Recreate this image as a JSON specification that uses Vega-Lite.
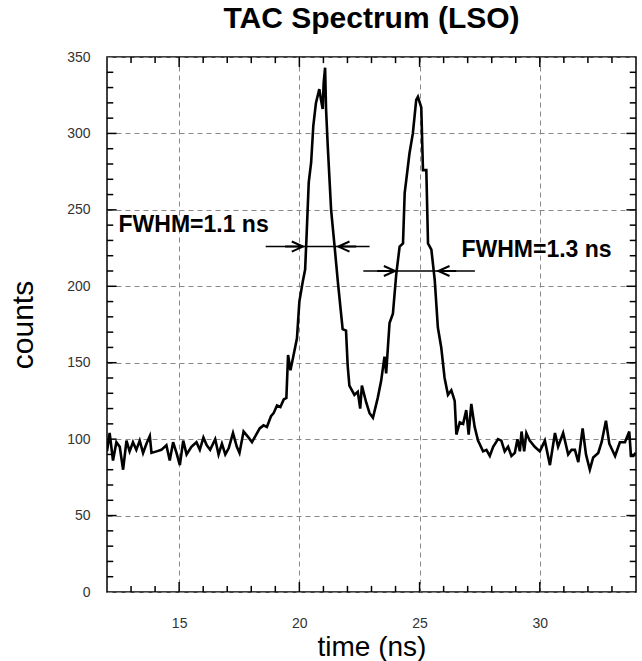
{
  "$schema": "https://vega.github.io/schema/vega-lite/v6.json",
  "width": 529,
  "height": 535,
  "autosize": {"type": "none"},
  "padding": {"left": 107, "top": 57, "right": 6, "bottom": 69},
  "background": "white",
  "config": {
    "font": "Liberation Sans",
    "view": {"stroke": "black", "strokeWidth": 1.5},
    "axis": {"labelFont": "Liberation Sans", "titleFont": "Liberation Sans"}
  },
  "title": {
    "text": "TAC Spectrum (LSO)",
    "fontSize": 30,
    "fontWeight": "bold",
    "font": "Liberation Sans",
    "color": "black",
    "anchor": "middle",
    "frame": "group",
    "offset": 16
  },
  "datasets": {
    "spectrum": [
      {"t": 12.00, "c": 92}, {"t": 12.11, "c": 104}, {"t": 12.25, "c": 86}, {"t": 12.39, "c": 98},
      {"t": 12.53, "c": 95}, {"t": 12.67, "c": 80}, {"t": 12.81, "c": 99}, {"t": 12.94, "c": 92},
      {"t": 13.08, "c": 98}, {"t": 13.22, "c": 93}, {"t": 13.36, "c": 99}, {"t": 13.50, "c": 91},
      {"t": 13.64, "c": 97}, {"t": 13.78, "c": 102}, {"t": 13.85, "c": 91}, {"t": 14.06, "c": 92},
      {"t": 14.26, "c": 93}, {"t": 14.47, "c": 96}, {"t": 14.61, "c": 86}, {"t": 14.75, "c": 98},
      {"t": 14.89, "c": 91}, {"t": 15.03, "c": 83}, {"t": 15.17, "c": 99}, {"t": 15.31, "c": 90},
      {"t": 15.51, "c": 95}, {"t": 15.72, "c": 98}, {"t": 15.86, "c": 93}, {"t": 16.01, "c": 101},
      {"t": 16.15, "c": 96}, {"t": 16.29, "c": 93}, {"t": 16.50, "c": 100}, {"t": 16.64, "c": 90},
      {"t": 16.78, "c": 97}, {"t": 16.92, "c": 90}, {"t": 17.06, "c": 94}, {"t": 17.24, "c": 104},
      {"t": 17.40, "c": 95}, {"t": 17.51, "c": 91}, {"t": 17.68, "c": 105}, {"t": 17.89, "c": 101},
      {"t": 18.03, "c": 98}, {"t": 18.17, "c": 102}, {"t": 18.35, "c": 107}, {"t": 18.51, "c": 109},
      {"t": 18.65, "c": 108}, {"t": 18.82, "c": 115}, {"t": 18.93, "c": 117}, {"t": 19.07, "c": 122},
      {"t": 19.21, "c": 121}, {"t": 19.35, "c": 126}, {"t": 19.46, "c": 127}, {"t": 19.53, "c": 155},
      {"t": 19.63, "c": 145}, {"t": 19.76, "c": 155}, {"t": 19.90, "c": 166}, {"t": 20.00, "c": 190},
      {"t": 20.14, "c": 203}, {"t": 20.24, "c": 211}, {"t": 20.30, "c": 233}, {"t": 20.39, "c": 268},
      {"t": 20.49, "c": 281}, {"t": 20.58, "c": 305}, {"t": 20.69, "c": 320}, {"t": 20.83, "c": 329},
      {"t": 20.90, "c": 322}, {"t": 20.97, "c": 316}, {"t": 21.01, "c": 333}, {"t": 21.07, "c": 343},
      {"t": 21.11, "c": 316}, {"t": 21.18, "c": 292}, {"t": 21.32, "c": 250}, {"t": 21.46, "c": 227},
      {"t": 21.60, "c": 203}, {"t": 21.80, "c": 172}, {"t": 21.94, "c": 171}, {"t": 22.01, "c": 148},
      {"t": 22.08, "c": 135}, {"t": 22.29, "c": 129}, {"t": 22.43, "c": 131}, {"t": 22.53, "c": 120},
      {"t": 22.60, "c": 135}, {"t": 22.78, "c": 124}, {"t": 22.92, "c": 117}, {"t": 23.06, "c": 114},
      {"t": 23.26, "c": 127}, {"t": 23.40, "c": 138}, {"t": 23.54, "c": 154}, {"t": 23.61, "c": 143},
      {"t": 23.75, "c": 176}, {"t": 23.89, "c": 182}, {"t": 24.03, "c": 208}, {"t": 24.17, "c": 226},
      {"t": 24.31, "c": 228}, {"t": 24.38, "c": 261}, {"t": 24.58, "c": 287}, {"t": 24.72, "c": 300},
      {"t": 24.86, "c": 322}, {"t": 24.93, "c": 324}, {"t": 25.07, "c": 317}, {"t": 25.14, "c": 276},
      {"t": 25.28, "c": 276}, {"t": 25.35, "c": 228}, {"t": 25.49, "c": 224}, {"t": 25.63, "c": 204},
      {"t": 25.76, "c": 173}, {"t": 25.90, "c": 160}, {"t": 26.04, "c": 140}, {"t": 26.18, "c": 129},
      {"t": 26.32, "c": 132}, {"t": 26.46, "c": 125}, {"t": 26.53, "c": 103}, {"t": 26.67, "c": 111},
      {"t": 26.81, "c": 110}, {"t": 26.94, "c": 119}, {"t": 27.04, "c": 103}, {"t": 27.15, "c": 123},
      {"t": 27.29, "c": 108}, {"t": 27.43, "c": 99}, {"t": 27.64, "c": 92}, {"t": 27.78, "c": 93},
      {"t": 27.92, "c": 89}, {"t": 28.06, "c": 95}, {"t": 28.26, "c": 100}, {"t": 28.40, "c": 99},
      {"t": 28.54, "c": 92}, {"t": 28.68, "c": 95}, {"t": 28.82, "c": 89}, {"t": 28.96, "c": 91},
      {"t": 29.07, "c": 100}, {"t": 29.17, "c": 92}, {"t": 29.24, "c": 105}, {"t": 29.35, "c": 92},
      {"t": 29.44, "c": 104}, {"t": 29.58, "c": 99}, {"t": 29.79, "c": 95}, {"t": 30.00, "c": 92},
      {"t": 30.21, "c": 99}, {"t": 30.42, "c": 83}, {"t": 30.63, "c": 104}, {"t": 30.76, "c": 95},
      {"t": 30.97, "c": 104}, {"t": 31.18, "c": 90}, {"t": 31.32, "c": 93}, {"t": 31.46, "c": 93},
      {"t": 31.60, "c": 85}, {"t": 31.78, "c": 107}, {"t": 31.92, "c": 90}, {"t": 32.08, "c": 80},
      {"t": 32.22, "c": 88}, {"t": 32.43, "c": 91}, {"t": 32.57, "c": 98}, {"t": 32.75, "c": 112},
      {"t": 32.89, "c": 97}, {"t": 33.13, "c": 89}, {"t": 33.33, "c": 98}, {"t": 33.54, "c": 98},
      {"t": 33.72, "c": 105}, {"t": 33.79, "c": 89}, {"t": 33.89, "c": 89}, {"t": 33.99, "c": 91}
    ],
    "fwhm": [
      {"x1": 18.6, "x2": 22.92, "y": 226},
      {"x1": 22.66, "x2": 27.3, "y": 210}
    ],
    "heads": [
      {"x": 20.15, "y": 226, "dir": "right"},
      {"x": 21.62, "y": 226, "dir": "left"},
      {"x": 23.98, "y": 210, "dir": "right"},
      {"x": 25.78, "y": 210, "dir": "left"}
    ],
    "labels": [
      {"x": 12.48, "y": 240, "text": "FWHM=1.1 ns"},
      {"x": 26.74, "y": 224, "text": "FWHM=1.3 ns"}
    ],
    "xminor": [
      {"v": 13}, {"v": 14}, {"v": 16}, {"v": 17}, {"v": 18}, {"v": 19}, {"v": 21}, {"v": 22},
      {"v": 23}, {"v": 24}, {"v": 26}, {"v": 27}, {"v": 28}, {"v": 29}, {"v": 31}, {"v": 32}, {"v": 33}
    ],
    "xmajor": [{"v": 15}, {"v": 20}, {"v": 25}, {"v": 30}],
    "yminor": [
      {"v": 10}, {"v": 20}, {"v": 30}, {"v": 40}, {"v": 60}, {"v": 70}, {"v": 80}, {"v": 90},
      {"v": 110}, {"v": 120}, {"v": 130}, {"v": 140}, {"v": 160}, {"v": 170}, {"v": 180}, {"v": 190},
      {"v": 210}, {"v": 220}, {"v": 230}, {"v": 240}, {"v": 260}, {"v": 270}, {"v": 280}, {"v": 290},
      {"v": 310}, {"v": 320}, {"v": 330}, {"v": 340}
    ],
    "ymajor": [{"v": 50}, {"v": 100}, {"v": 150}, {"v": 200}, {"v": 250}, {"v": 300}]
  },
  "layer": [
    {
      "data": {"name": "spectrum"},
      "mark": {"type": "line", "color": "black", "strokeWidth": 2.6, "strokeJoin": "miter", "clip": true},
      "encoding": {
        "x": {
          "field": "t", "type": "quantitative",
          "scale": {"domain": [12, 34], "nice": false, "zero": false},
          "axis": {
            "orient": "bottom",
            "values": [15, 20, 25, 30],
            "labelOverlap": false,
            "labelFlush": false,
            "labelFontSize": 14,
            "labelColor": "#333",
            "labelPadding": 24,
            "grid": true,
            "gridDash": [5, 4],
            "gridColor": "#888",
            "gridWidth": 1,
            "ticks": false,
            "domain": false,
            "title": "time (ns)",
            "titleFontSize": 28,
            "titleFontWeight": "normal",
            "titleColor": "black",
            "titlePadding": 3
          }
        },
        "y": {
          "field": "c", "type": "quantitative",
          "scale": {"domain": [0, 350], "nice": false},
          "axis": {
            "orient": "left",
            "values": [0, 50, 100, 150, 200, 250, 300, 350],
            "labelOverlap": false,
            "labelFlush": false,
            "labelFontSize": 14,
            "labelColor": "#333",
            "labelPadding": 17,
            "grid": true,
            "gridDash": [5, 4],
            "gridColor": "#888",
            "gridWidth": 1,
            "ticks": false,
            "domain": false,
            "title": "counts",
            "titleFontSize": 30,
            "titleFontWeight": "normal",
            "titleColor": "black",
            "titlePadding": 28
          }
        }
      }
    },
    {
      "data": {"name": "xminor"},
      "mark": {"type": "rule", "color": "black", "strokeWidth": 1.5},
      "encoding": {
        "x": {"field": "v", "type": "quantitative", "axis": null},
        "y": {"datum": 0, "type": "quantitative", "axis": null},
        "y2": {"datum": 4}
      }
    },
    {
      "data": {"name": "xminor"},
      "mark": {"type": "rule", "color": "black", "strokeWidth": 1.5},
      "encoding": {
        "x": {"field": "v", "type": "quantitative", "axis": null},
        "y": {"datum": 350, "type": "quantitative", "axis": null},
        "y2": {"datum": 346}
      }
    },
    {
      "data": {"name": "xmajor"},
      "mark": {"type": "rule", "color": "black", "strokeWidth": 1.5},
      "encoding": {
        "x": {"field": "v", "type": "quantitative", "axis": null},
        "y": {"datum": 0, "type": "quantitative", "axis": null},
        "y2": {"datum": 6.5}
      }
    },
    {
      "data": {"name": "xmajor"},
      "mark": {"type": "rule", "color": "black", "strokeWidth": 1.5},
      "encoding": {
        "x": {"field": "v", "type": "quantitative", "axis": null},
        "y": {"datum": 350, "type": "quantitative", "axis": null},
        "y2": {"datum": 343.5}
      }
    },
    {
      "data": {"name": "yminor"},
      "mark": {"type": "rule", "color": "black", "strokeWidth": 1.5},
      "encoding": {
        "y": {"field": "v", "type": "quantitative", "axis": null},
        "x": {"datum": 12, "type": "quantitative", "axis": null},
        "x2": {"datum": 12.26}
      }
    },
    {
      "data": {"name": "yminor"},
      "mark": {"type": "rule", "color": "black", "strokeWidth": 1.5},
      "encoding": {
        "y": {"field": "v", "type": "quantitative", "axis": null},
        "x": {"datum": 34, "type": "quantitative", "axis": null},
        "x2": {"datum": 33.74}
      }
    },
    {
      "data": {"name": "ymajor"},
      "mark": {"type": "rule", "color": "black", "strokeWidth": 1.5},
      "encoding": {
        "y": {"field": "v", "type": "quantitative", "axis": null},
        "x": {"datum": 12, "type": "quantitative", "axis": null},
        "x2": {"datum": 12.4}
      }
    },
    {
      "data": {"name": "ymajor"},
      "mark": {"type": "rule", "color": "black", "strokeWidth": 1.5},
      "encoding": {
        "y": {"field": "v", "type": "quantitative", "axis": null},
        "x": {"datum": 34, "type": "quantitative", "axis": null},
        "x2": {"datum": 33.6}
      }
    },
    {
      "data": {"name": "fwhm"},
      "mark": {"type": "rule", "color": "black", "strokeWidth": 1.6},
      "encoding": {
        "x": {"field": "x1", "type": "quantitative", "axis": null},
        "x2": {"field": "x2"},
        "y": {"field": "y", "type": "quantitative", "axis": null}
      }
    },
    {
      "data": {"name": "heads"},
      "mark": {"type": "point", "filled": false, "stroke": "black", "strokeWidth": 2, "opacity": 1, "size": 500, "strokeJoin": "miter"},
      "encoding": {
        "x": {"field": "x", "type": "quantitative", "axis": null},
        "y": {"field": "y", "type": "quantitative", "axis": null},
        "shape": {
          "field": "dir", "type": "nominal", "legend": null,
          "scale": {"domain": ["right", "left"], "range": ["M-1,-0.45L0,0L-1,0.45M-1.6,0L0,0", "M1,-0.45L0,0L1,0.45M1.6,0L0,0"]}
        }
      }
    },
    {
      "data": {"name": "labels"},
      "mark": {"type": "text", "align": "left", "baseline": "middle", "fontSize": 23, "fontWeight": "bold", "font": "Liberation Sans", "color": "black"},
      "encoding": {
        "x": {"field": "x", "type": "quantitative", "axis": null},
        "y": {"field": "y", "type": "quantitative", "axis": null},
        "text": {"field": "text"}
      }
    }
  ],
  "resolve": {"axis": {"x": "independent", "y": "independent"}}
}
